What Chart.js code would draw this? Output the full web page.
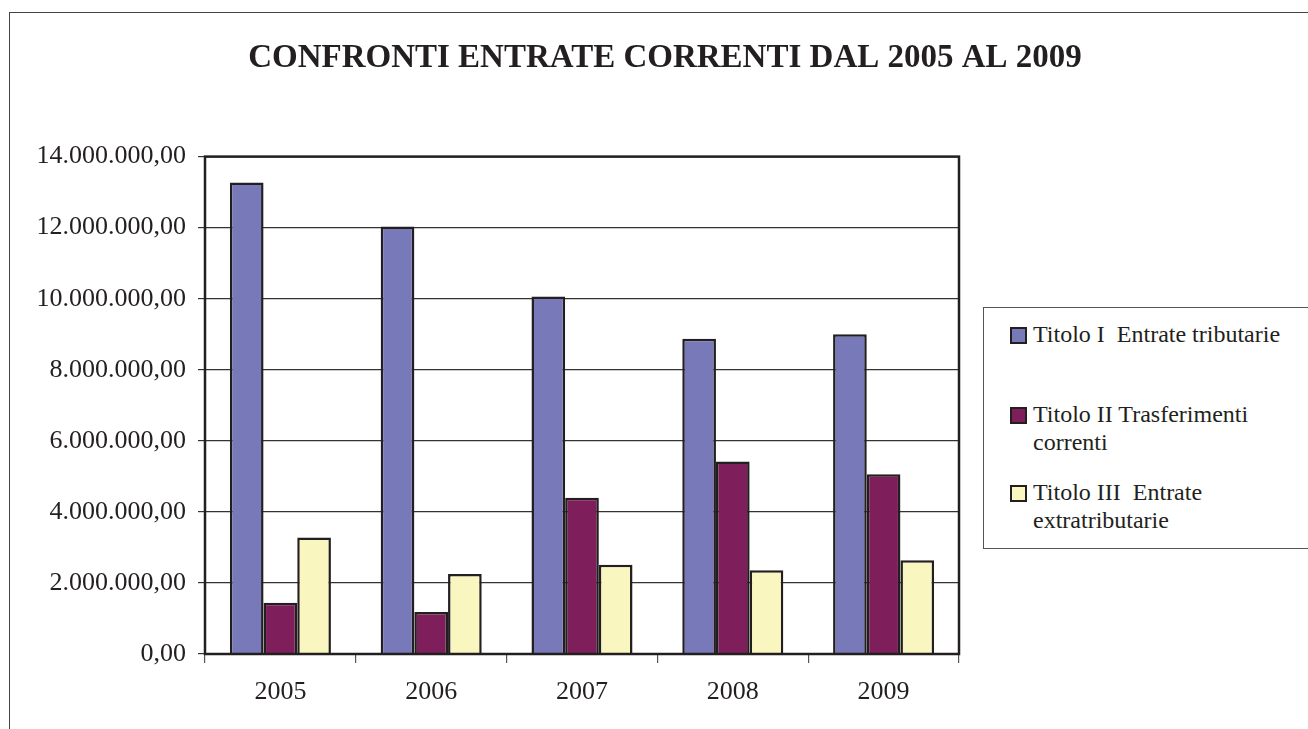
<!DOCTYPE html>
<html>
<head>
<meta charset="utf-8">
<title>Confronti entrate correnti</title>
<script src="https://cdn.jsdelivr.net/npm/chart.js@4.4.1/dist/chart.umd.min.js"></script>
<style>
    html, body { margin: 0; padding: 0; background: #fff; overflow: hidden; }
    body { width: 1308px; height: 729px; position: relative; font-family: "Liberation Serif", "Times New Roman", serif; }
    #grafico { position: absolute; left: 9px; top: 0; }
    #cornice { position: absolute; left: 9px; top: 12px; width: 1400px; height: 800px;
               border-top: 1.5px solid #444; border-left: 1.5px solid #444; pointer-events: none; }
    #legenda { position: absolute; left: 983px; top: 307px; width: 400px; height: 240px;
               border: 1.5px solid #555; background: #fff; }
    .voce { position: absolute; left: 26px; width: 300px; display: flex; font-size: 24px;
            line-height: 28px; color: #231f20; font-family: "Liberation Serif", serif; }
    .voce .quadrato { flex: none; width: 13px; height: 13px; border: 2px solid #231f20;
                      margin: 7px 6px 0 0; }
    .voce .testo { white-space: pre-wrap; width: 268px; }
</style>
</head>
<body>
<canvas id="grafico" width="1312" height="729" style="width:1312px;height:729px"></canvas>
<div id="cornice"></div>
<div id="legenda"></div>
<script>
const anni = ['2005', '2006', '2007', '2008', '2009'];
const nomiSerie = ['Titolo I  Entrate tributarie', 'Titolo II Trasferimenti correnti', 'Titolo III  Entrate extratributarie'];
const titoloI = [13270000, 12030000, 10060000, 8870000, 9000000];
const titoloII = [1440000, 1180000, 4400000, 5420000, 5060000];
const titoloIII = [3280000, 2250000, 2510000, 2360000, 2640000];
const colori = ['#7779b8', '#7e1e5a', '#f9f6c0'];
const scalaMax = 14000000;
const scalaPasso = 2000000;

// numero in formato italiano: 14.000.000,00
function formatta(v) {
    var parti = Math.abs(v).toFixed(2).split('.');
    var intero = parti[0].replace(/\B(?=(\d{3})+(?!\d))/g, '.');
    return (v < 0 ? '-' : '') + intero + ',' + parti[1];
}

// bordo scuro intorno all'area del grafico
const cornicePlot = {
    id: 'cornicePlot',
    afterDatasetsDraw(chart) {
        const ctx = chart.ctx, a = chart.chartArea;
        ctx.save();
        ctx.strokeStyle = '#231f20';
        ctx.lineWidth = 2.5;
        ctx.strokeRect(a.left, a.top, a.right - a.left, a.bottom - a.top);
        ctx.restore();
    }
};

const serie = [titoloI, titoloII, titoloIII];
const datasets = serie.map((valori, i) => ({
    label: nomiSerie[i],
    data: valori,
    backgroundColor: colori[i],
    borderColor: '#231f20',
    borderWidth: 2.5,
    categoryPercentage: 0.67,
    barPercentage: 1.0
}));

const config = {
    type: 'bar',
    data: { labels: anni, datasets: datasets },
    options: {
        responsive: false,
        animation: false,
        layout: { padding: 0 },
        plugins: {
            legend: { display: false },
            tooltip: { enabled: false },
            title: {
                display: true,
                text: 'CONFRONTI ENTRATE CORRENTI DAL 2005 AL 2009',
                color: '#231f20',
                font: { family: '"Liberation Serif", serif', size: 33, weight: 'bold', lineHeight: 1.2 },
                padding: { top: 39, bottom: 78 }
            }
        },
        scales: {
            x: {
                grid: { offset: true, drawOnChartArea: false, tickLength: 9, color: '#555', lineWidth: 1.2 },
                border: { display: false },
                ticks: { color: '#231f20', padding: 14, font: { family: '"Liberation Serif", serif', size: 26 } },
                afterFit(s) { s.height = 75; }
            },
            y: {
                min: 0,
                max: scalaMax,
                ticks: {
                    stepSize: scalaPasso,
                    color: '#231f20',
                    padding: 12,
                    font: { family: '"Liberation Serif", serif', size: 26 },
                    callback: v => formatta(v)
                },
                grid: { color: '#333', lineWidth: 1.2, tickLength: 7 },
                border: { display: false },
                afterFit(s) { s.width = 196; }
            },
            // spazio vuoto a destra per la legenda
            destra: {
                type: 'linear',
                position: 'right',
                ticks: { display: false },
                grid: { display: false },
                border: { display: false },
                afterFit(s) { s.width = 362; }
            }
        }
    },
    plugins: [cornicePlot]
};

new Chart(document.getElementById('grafico'), config);

// legenda con testo a capo
const legenda = document.getElementById('legenda');
const posizioni = [12, 92, 170];
nomiSerie.forEach((nome, i) => {
    const voce = document.createElement('div');
    voce.className = 'voce';
    voce.style.top = posizioni[i] + 'px';
    const q = document.createElement('span');
    q.className = 'quadrato';
    q.style.background = colori[i];
    const t = document.createElement('span');
    t.className = 'testo';
    t.textContent = nome;
    voce.appendChild(q);
    voce.appendChild(t);
    legenda.appendChild(voce);
});
</script>
</body>
</html>
